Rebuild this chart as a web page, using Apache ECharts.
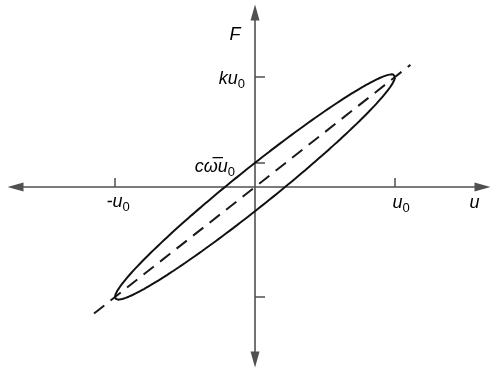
<!DOCTYPE html>
<html>
<head>
<meta charset="utf-8">
<script src="https://cdn.jsdelivr.net/npm/echarts@6/dist/echarts.min.js"></script>
<style>
  html, body { margin: 0; padding: 0; background: #fff; }
  #chart { width: 491px; height: 374px; }
</style>
</head>
<body>
<div id="chart"></div>
<script>
// Hysteresis loop of a viscously damped spring: F = k u + c u'
// Amplitude u0, stiffness force k u0, damping force c w u0 (all in units of u0 / k u0).
const u0 = 1;
const ku0 = 1;
const cwu0 = 0.22;

// Axis extents (data units)
const xRange = [-1.711, 1.625];
const yRange = [-1.568, 1.586];

// Reference line F = k u
const stiffLineU = [-1.15, 1.11];

// Ticks
const xTicks = [-u0, u0];
const yTicks = [-ku0, cwu0, ku0];

// Loop traced over one cycle: u = u0 cos t, F = k u + c w u0 sin t
const steps = 240;
const loop = [];
for (let i = 0; i <= steps; i++) {
  const t = (2 * Math.PI * i) / steps;
  const u = u0 * Math.cos(t);
  loop.push([u, (ku0 / u0) * u + cwu0 * Math.sin(t)]);
}
const stiffLine = stiffLineU.map(u => [u, (ku0 / u0) * u]);

const axisColor = '#505050';
const textColor = '#2a2a2a';
const family = '"Liberation Sans", Arial, sans-serif';
const rich = {
  m: { fontFamily: family, fontStyle: 'italic', fontSize: 18, lineHeight: 24, color: textColor },
  s: { fontFamily: family, fontStyle: 'normal', fontSize: 13, lineHeight: 13, verticalAlign: 'bottom', color: textColor }
};

const chart = echarts.init(document.getElementById('chart'));
chart.setOption({
  animation: false,
  grid: { left: 15.5, right: 8.5, top: 12.5, bottom: 14.5 },
  xAxis: {
    type: 'value', min: xRange[0], max: xRange[1],
    axisLine: { onZero: true, symbol: ['triangle', 'triangle'], symbolSize: [9, 16],
                lineStyle: { color: axisColor, width: 1.6 } },
    axisTick: { show: true, inside: true, length: 9, customValues: xTicks,
                lineStyle: { color: axisColor, width: 1.5 } },
    axisLabel: { show: false },
    splitLine: { show: false }
  },
  yAxis: {
    type: 'value', min: yRange[0], max: yRange[1],
    axisLine: { onZero: true, symbol: ['triangle', 'triangle'], symbolSize: [9, 16],
                lineStyle: { color: axisColor, width: 1.6 } },
    axisTick: { show: true, inside: true, length: 10, customValues: yTicks,
                lineStyle: { color: axisColor, width: 1.5 } },
    axisLabel: { show: false },
    splitLine: { show: false }
  },
  series: [
    {
      type: 'line', data: stiffLine, showSymbol: false, silent: true,
      lineStyle: { color: '#1a1a1a', width: 2, type: [13, 8] }
    },
    {
      type: 'line', data: loop, showSymbol: false, silent: true,
      lineStyle: { color: '#111', width: 2 }
    }
  ]
});

// Labels placed next to their ticks
const px = p => chart.convertToPixel({ gridIndex: 0 }, p);
const origin = px([0, 0]);
const label = (text, x, y, align, vAlign) => ({
  type: 'text', x, y,
  style: { text, rich, align, verticalAlign: vAlign }
});
chart.setOption({
  graphic: [
    label('{m|F}', origin[0] - 20, px([0, 1.38])[1], 'center', 'middle'),
    label('{m|ku}{s|0}', origin[0] - 10, px([0, ku0])[1] + 2, 'right', 'middle'),
    label('{m|c\u03C9\u0305u}{s|0}', origin[0] - 20, px([0, cwu0])[1] + 4, 'right', 'middle'),
    label('{m|-u}{s|0}', px([-u0, 0])[0] + 3, origin[1] + 3, 'center', 'top'),
    label('{m|u}{s|0}', px([u0, 0])[0] + 6, origin[1] + 4, 'center', 'top'),
    label('{m|u}', px([1.61, 0])[0] - 6, origin[1] + 4, 'center', 'top')
  ]
});
</script>
</body>
</html>
